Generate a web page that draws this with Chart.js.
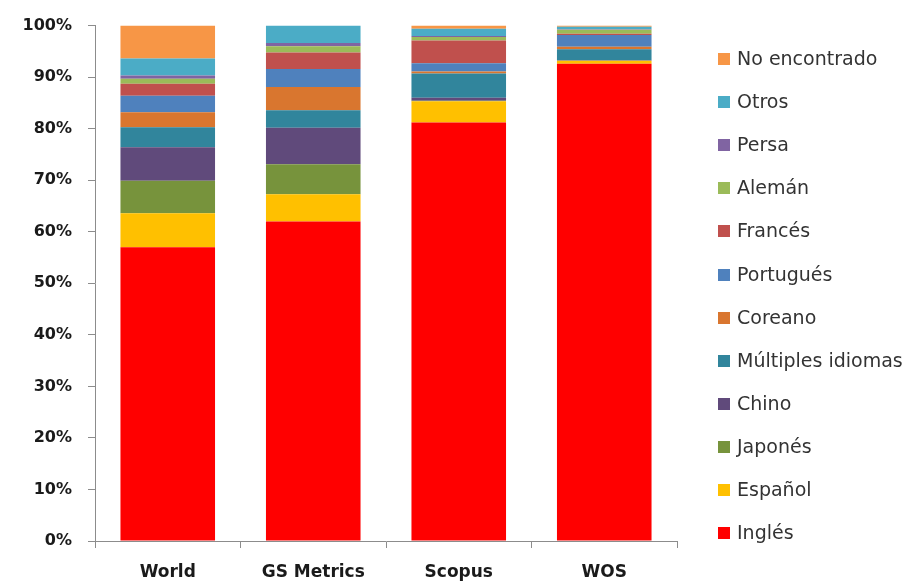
<!DOCTYPE html>
<html>
<head>
<meta charset="utf-8">
<script src="https://cdn.jsdelivr.net/npm/chart.js@4.4.0/dist/chart.umd.min.js"></script>
<style>
  html, body { margin: 0; padding: 0; background: #fff; }
  #wrap { position: relative; width: 916px; height: 585px; }
  #legend { position: absolute; left: 0; top: 0; font-family: "DejaVu Sans", sans-serif; font-size: 19px; color: #333; }
  .item { position: absolute; white-space: nowrap; line-height: 20px; }
  .item span.box { position: absolute; left: 0; top: 4px; width: 12px; height: 12px; }
  .item span.txt { position: absolute; left: 19px; top: -1px; }
</style>
</head>
<body>
<div id="wrap">
  <canvas id="chart" width="916" height="585"></canvas>
  <div id="legend"></div>
</div>
<script>
// Data (percent of each source)
const categories = ['World', 'GS Metrics', 'Scopus', 'WOS'];
const yTicks = [0, 10, 20, 30, 40, 50, 60, 70, 80, 90, 100];

const ingles       = [57.0, 62.0, 81.2, 92.6];
const espanol      = [6.6, 5.3, 4.1, 0.6];
const japones      = [6.3, 5.8, 0.1, 0.0];
const chino        = [6.5, 7.1, 0.6, 0.1];
const multiples    = [3.9, 3.4, 4.7, 2.1];
const coreano      = [2.9, 4.5, 0.4, 0.5];
const portugues    = [3.2, 3.5, 1.6, 2.3];
const frances      = [2.3, 3.2, 4.4, 0.2];
const aleman       = [1.0, 1.2, 0.7, 0.8];
const persa        = [0.6, 0.6, 0.2, 0.1];
const otros        = [3.3, 3.4, 1.4, 0.5];
const noEncontrado = [6.4, 0.0, 0.6, 0.2];

// Series, bottom to top
const series = [
    { label: 'Inglés', data: ingles, color: '#FF0000' },
    { label: 'Español', data: espanol, color: '#FFC000' },
    { label: 'Japonés', data: japones, color: '#77933C' },
    { label: 'Chino', data: chino, color: '#604A7B' },
    { label: 'Múltiples idiomas', data: multiples, color: '#31859C' },
    { label: 'Coreano', data: coreano, color: '#D9762F' },
    { label: 'Portugués', data: portugues, color: '#4F81BD' },
    { label: 'Francés', data: frances, color: '#C0504D' },
    { label: 'Alemán', data: aleman, color: '#9BBB59' },
    { label: 'Persa', data: persa, color: '#8064A2' },
    { label: 'Otros', data: otros, color: '#4BACC6' },
    { label: 'No encontrado', data: noEncontrado, color: '#F79646' }
];

const axisColor = '#8c8c8c';
const labelFont = { family: '"DejaVu Sans", sans-serif', weight: 'bold' };

const ctx = document.getElementById('chart').getContext('2d');
const chart = new Chart(ctx, {
    type: 'bar',
    data: {
        labels: categories,
        datasets: series.map(s => ({
            label: s.label,
            data: s.data,
            backgroundColor: s.color,
            borderWidth: 0,
            barPercentage: 0.65,
            categoryPercentage: 1.0
        }))
    },
    options: {
        responsive: false,
        animation: false,
        layout: { padding: { top: 16, right: 239, left: 0, bottom: 0 } },
        plugins: {
            legend: { display: false },
            tooltip: { enabled: false }
        },
        scales: {
            x: {
                stacked: true,
                afterFit: scale => { scale.height = 44; },
                grid: {
                    drawOnChartArea: false,
                    color: axisColor,
                    tickLength: 7,
                    offset: true
                },
                border: { color: axisColor, width: 1 },
                ticks: {
                    color: '#1a1a1a',
                    padding: 14,
                    font: { ...labelFont, size: 17 }
                }
            },
            y: {
                stacked: true,
                min: 0,
                max: 100,
                afterFit: scale => { scale.width = 95; },
                afterBuildTicks: scale => { scale.ticks = yTicks.map(v => ({ value: v })); },
                grid: {
                    drawOnChartArea: false,
                    color: axisColor,
                    tickLength: 7
                },
                border: { color: axisColor, width: 1 },
                ticks: {
                    color: '#1a1a1a',
                    padding: 16,
                    font: { ...labelFont, size: 16 },
                    callback: v => v + '%'
                }
            }
        }
    }
});

// Legend (top item = last series)
const legend = document.getElementById('legend');
series.slice().reverse().forEach((s, i) => {
    const item = document.createElement('div');
    item.className = 'item';
    item.style.left = '718px';
    item.style.top = (49 + i * 43.1) + 'px';
    item.innerHTML = `<span class="box" style="background:${s.color}"></span><span class="txt">${s.label}</span>`;
    legend.appendChild(item);
});
</script>
</body>
</html>
